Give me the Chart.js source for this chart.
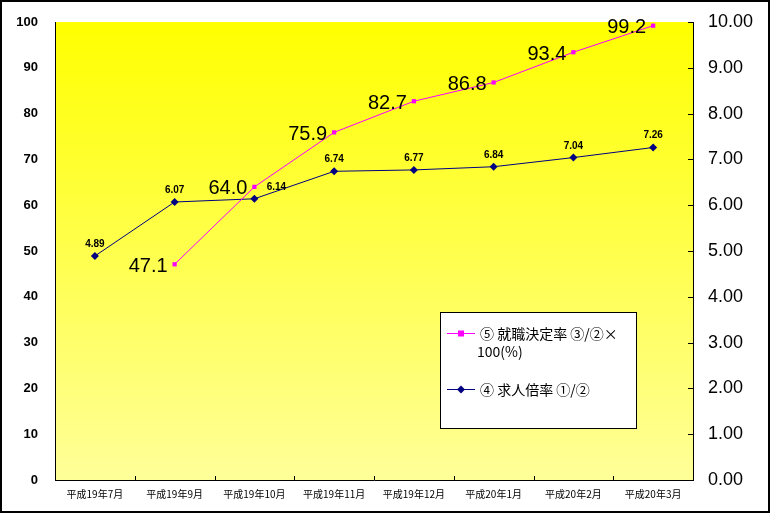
<!DOCTYPE html>
<html>
<head>
<meta charset="utf-8">
<script src="https://cdn.jsdelivr.net/npm/chart.js@4.4.0/dist/chart.umd.min.js"></script>
<style>
  body { margin: 0; background: #fff; }
</style>
</head>
<body>
<canvas id="chart" width="770" height="513"></canvas>
<script>
// months on the x axis
var months = ['平成19年7月', '平成19年9月', '平成19年10月', '平成19年11月',
              '平成19年12月', '平成20年1月', '平成20年2月', '平成20年3月'];

// ⑤ 就職決定率 (left axis, %), no value for 7月
var placementRate = [null, 47.1, 64.0, 75.9, 82.7, 86.8, 93.4, 99.2];
// ④ 求人倍率 (right axis)
var jobRatio = [4.89, 6.07, 6.14, 6.74, 6.77, 6.84, 7.04, 7.26];

var legendLines = [
  ['⑤ 就職決定率 ③/②×', '100(%)'],
  ['④ 求人倍率 ①/②']
];

var jpFont = '"Noto Sans CJK JP", "Liberation Sans", sans-serif';

// yellow gradient behind the plot
var bgPlugin = {
  id: 'bg',
  beforeDraw: function (chart) {
    var a = chart.chartArea, ctx = chart.ctx;
    var g = ctx.createLinearGradient(0, a.top, 0, a.bottom);
    g.addColorStop(0, '#ffff00');
    g.addColorStop(1, '#ffff99');
    ctx.save();
    ctx.fillStyle = g;
    ctx.fillRect(a.left, a.top, a.right - a.left, a.bottom - a.top);
    ctx.restore();
  }
};

// value labels, tick marks, legend box, outer frame
var extras = {
  id: 'extras',
  afterDraw: function (chart) {
    var ctx = chart.ctx, a = chart.chartArea;
    ctx.save();

    // magenta labels: big, to the left of the point
    var m0 = chart.getDatasetMeta(0);
    ctx.font = '20px "Liberation Sans", sans-serif';
    ctx.fillStyle = '#000';
    ctx.textAlign = 'right';
    ctx.textBaseline = 'middle';
    m0.data.forEach(function (pt, i) {
      if (placementRate[i] == null) return;
      ctx.fillText(placementRate[i].toFixed(1), pt.x - 7, pt.y + 2);
    });

    // navy labels: small bold, above the point
    var m1 = chart.getDatasetMeta(1);
    ctx.font = 'bold 10px "Liberation Sans", sans-serif';
    ctx.textAlign = 'center';
    ctx.textBaseline = 'alphabetic';
    m1.data.forEach(function (pt, i) {
      // the 10月 label sits to the right so it clears the 64.0
      var dx = i === 2 ? 22 : 0;
      ctx.fillText(jobRatio[i].toFixed(2), pt.x + dx, pt.y - 9);
    });

    // short inside ticks on right axis and bottom axis
    ctx.strokeStyle = '#000';
    ctx.lineWidth = 1;
    var y1 = chart.scales.y1;
    y1.ticks.forEach(function (t) {
      var py = Math.round(y1.getPixelForValue(t.value)) + 0.5;
      ctx.beginPath();
      ctx.moveTo(a.right - 5, py);
      ctx.lineTo(a.right, py);
      ctx.stroke();
    });
    var step = (a.right - a.left) / months.length;
    for (var i = 1; i < months.length; i++) {
      var px = Math.round(a.left + i * step) + 0.5;
      ctx.beginPath();
      ctx.moveTo(px, a.bottom);
      ctx.lineTo(px, a.bottom - 4);
      ctx.stroke();
    }

    // legend box
    var lx = 440, ly = 312, lw = 196, lh = 116;
    ctx.fillStyle = '#fff';
    ctx.fillRect(lx, ly, lw, lh);
    ctx.strokeRect(lx + 0.5, ly + 0.5, lw, lh);
    var rows = [333, 389];
    chart.data.datasets.forEach(function (ds, k) {
      var ry = rows[k] + 0.5;
      ctx.strokeStyle = ds.borderColor;
      ctx.beginPath();
      ctx.moveTo(447, ry);
      ctx.lineTo(475, ry);
      ctx.stroke();
      ctx.fillStyle = ds.borderColor;
      if (k === 0) {
        ctx.fillRect(458, ry - 3, 6, 6);
      } else {
        ctx.beginPath();
        ctx.moveTo(461, ry - 4); ctx.lineTo(465, ry);
        ctx.lineTo(461, ry + 4); ctx.lineTo(457, ry);
        ctx.closePath(); ctx.fill();
      }
      ctx.fillStyle = '#000';
      ctx.font = '14px ' + jpFont;
      ctx.textAlign = 'left';
      ctx.textBaseline = 'middle';
      legendLines[k].forEach(function (line, j) {
        ctx.fillText(line, j === 0 ? 480 : 477, rows[k] + 1 + j * 18);
      });
    });

    // outer frame
    ctx.strokeStyle = '#000';
    ctx.lineWidth = 2;
    ctx.strokeRect(1, 1, chart.width - 2, chart.height - 2);
    ctx.restore();
  }
};

// fixed axis widths, no extra padding from label heights
function fitWidth(w) {
  return function (s) {
    s.width = w;
    s.paddingTop = 0;
    s.paddingBottom = 0;
  };
}

var ctx = document.getElementById('chart').getContext('2d');

new Chart(ctx, {
  type: 'line',
  data: {
    labels: months,
    datasets: [{
      label: '⑤ 就職決定率 ③/②×100(%)',
      data: placementRate,
      yAxisID: 'y',
      borderColor: '#ff00ff',
      backgroundColor: '#ff00ff',
      borderWidth: 1,
      pointStyle: 'rect',
      pointRadius: 3,
      pointBorderWidth: 0,
      tension: 0
    }, {
      label: '④ 求人倍率 ①/②',
      data: jobRatio,
      yAxisID: 'y1',
      borderColor: '#000080',
      backgroundColor: '#000080',
      borderWidth: 1,
      pointStyle: 'rectRot',
      pointRadius: 4,
      pointBorderWidth: 0,
      tension: 0
    }]
  },
  options: {
    responsive: false,
    devicePixelRatio: 1,
    animation: false,
    layout: { padding: { left: 0, top: 22, right: 0, bottom: 0 } },
    plugins: {
      legend: { display: false },
      tooltip: { enabled: false }
    },
    scales: {
      x: {
        offset: true,
        grid: { display: false, drawTicks: false },
        border: { display: true, color: '#000', width: 1 },
        ticks: {
          padding: 8,
          color: '#000',
          font: { family: jpFont, size: 10 },
          maxRotation: 0,
          autoSkip: false
        },
        afterFit: function (s) { s.height = 33; s.paddingLeft = 0; s.paddingRight = 0; }
      },
      y: {
        position: 'left',
        min: 0, max: 100,
        grid: { display: false, drawTicks: false },
        border: { display: true, color: '#000', width: 1 },
        ticks: {
          stepSize: 10,
          padding: 17,
          color: '#000',
          font: { family: '"Liberation Sans", sans-serif', size: 13, weight: 'bold' }
        },
        afterFit: fitWidth(55)
      },
      y1: {
        position: 'right',
        min: 0, max: 10,
        grid: { display: false, drawTicks: false },
        border: { display: true, color: '#000', width: 1 },
        ticks: {
          stepSize: 1,
          padding: 15,
          color: '#000',
          font: { family: '"Liberation Sans", sans-serif', size: 18 },
          callback: function (v) { return v.toFixed(2); }
        },
        afterFit: fitWidth(77)
      }
    }
  },
  plugins: [bgPlugin, extras]
});
</script>
</body>
</html>
